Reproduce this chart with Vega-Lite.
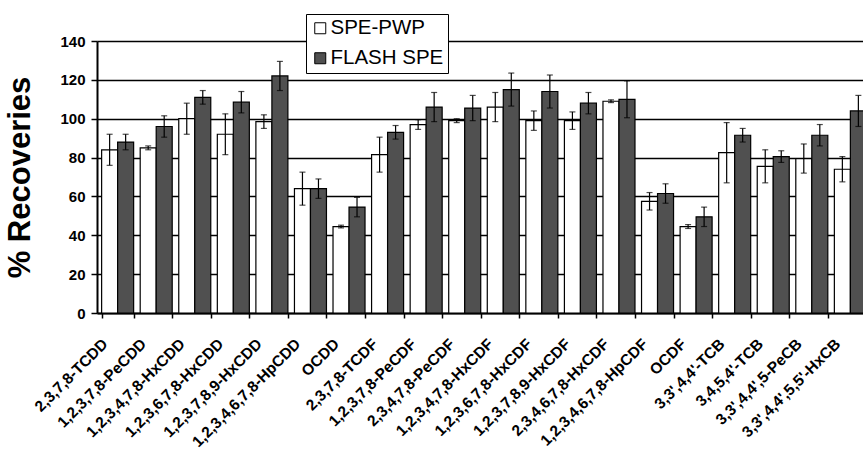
{
  "$schema": "https://vega.github.io/schema/vega-lite/v6.json",
  "width": 766,
  "height": 272,
  "autosize": {"type": "none"},
  "padding": {"left": 97, "top": 41, "right": 0, "bottom": 139},
  "background": "white",
  "config": {"font": "Liberation Sans", "view": {"stroke": null}},
  "data": {
    "values": [
      {"compound": "2,3,7,8-TCDD", "method": "SPE-PWP", "value": 84, "err": 8},
      {"compound": "2,3,7,8-TCDD", "method": "FLASH SPE", "value": 88, "err": 4},
      {"compound": "1,2,3,7,8-PeCDD", "method": "SPE-PWP", "value": 85, "err": 1},
      {"compound": "1,2,3,7,8-PeCDD", "method": "FLASH SPE", "value": 96, "err": 5.5},
      {"compound": "1,2,3,4,7,8-HxCDD", "method": "SPE-PWP", "value": 100, "err": 8},
      {"compound": "1,2,3,4,7,8-HxCDD", "method": "FLASH SPE", "value": 111, "err": 3.5},
      {"compound": "1,2,3,6,7,8-HxCDD", "method": "SPE-PWP", "value": 92, "err": 10.5},
      {"compound": "1,2,3,6,7,8-HxCDD", "method": "FLASH SPE", "value": 108.5, "err": 5.5},
      {"compound": "1,2,3,7,8,9-HxCDD", "method": "SPE-PWP", "value": 98.5, "err": 3.5},
      {"compound": "1,2,3,7,8,9-HxCDD", "method": "FLASH SPE", "value": 122, "err": 7.5},
      {"compound": "1,2,3,4,6,7,8-HpCDD", "method": "SPE-PWP", "value": 64, "err": 8.5},
      {"compound": "1,2,3,4,6,7,8-HpCDD", "method": "FLASH SPE", "value": 64, "err": 5},
      {"compound": "OCDD", "method": "SPE-PWP", "value": 44.5, "err": 0.7},
      {"compound": "OCDD", "method": "FLASH SPE", "value": 54.5, "err": 5},
      {"compound": "2,3,7,8-TCDF", "method": "SPE-PWP", "value": 81.5, "err": 9},
      {"compound": "2,3,7,8-TCDF", "method": "FLASH SPE", "value": 93, "err": 3.5},
      {"compound": "1,2,3,7,8-PeCDF", "method": "SPE-PWP", "value": 97, "err": 2.5},
      {"compound": "1,2,3,7,8-PeCDF", "method": "FLASH SPE", "value": 106, "err": 7.5},
      {"compound": "2,3,4,7,8-PeCDF", "method": "SPE-PWP", "value": 99, "err": 1},
      {"compound": "2,3,4,7,8-PeCDF", "method": "FLASH SPE", "value": 105.5, "err": 6.5},
      {"compound": "1,2,3,4,7,8-HxCDF", "method": "SPE-PWP", "value": 106, "err": 7.5},
      {"compound": "1,2,3,4,7,8-HxCDF", "method": "FLASH SPE", "value": 115, "err": 8.5},
      {"compound": "1,2,3,6,7,8-HxCDF", "method": "SPE-PWP", "value": 99, "err": 5},
      {"compound": "1,2,3,6,7,8-HxCDF", "method": "FLASH SPE", "value": 114, "err": 8.5},
      {"compound": "1,2,3,7,8,9-HxCDF", "method": "SPE-PWP", "value": 99, "err": 4.5},
      {"compound": "1,2,3,7,8,9-HxCDF", "method": "FLASH SPE", "value": 108, "err": 5.5},
      {"compound": "2,3,4,6,7,8-HxCDF", "method": "SPE-PWP", "value": 109, "err": 0.7},
      {"compound": "2,3,4,6,7,8-HxCDF", "method": "FLASH SPE", "value": 110, "err": 9.5},
      {"compound": "1,2,3,4,6,7,8-HpCDF", "method": "SPE-PWP", "value": 57.5, "err": 4.5},
      {"compound": "1,2,3,4,6,7,8-HpCDF", "method": "FLASH SPE", "value": 61.5, "err": 5},
      {"compound": "OCDF", "method": "SPE-PWP", "value": 44.5, "err": 1},
      {"compound": "OCDF", "method": "FLASH SPE", "value": 49.5, "err": 5},
      {"compound": "3,3',4,4'-TCB", "method": "SPE-PWP", "value": 82.5, "err": 15.5},
      {"compound": "3,3',4,4'-TCB", "method": "FLASH SPE", "value": 91.5, "err": 3.5},
      {"compound": "3,4,5,4'-TCB", "method": "SPE-PWP", "value": 75.5, "err": 8.5},
      {"compound": "3,4,5,4'-TCB", "method": "FLASH SPE", "value": 80.5, "err": 3},
      {"compound": "3,3',4,4',5-PeCB", "method": "SPE-PWP", "value": 79.5, "err": 7.5},
      {"compound": "3,3',4,4',5-PeCB", "method": "FLASH SPE", "value": 91.5, "err": 5.5},
      {"compound": "3,3',4,4',5,5'-HxCB", "method": "SPE-PWP", "value": 74, "err": 6.5},
      {"compound": "3,3',4,4',5,5'-HxCB", "method": "FLASH SPE", "value": 104, "err": 8}
    ]
  },
  "encoding": {
    "x": {
      "field": "compound",
      "type": "nominal",
      "sort": null,
      "scale": {"range": [0, 774], "paddingInner": 0.17, "paddingOuter": 0.12},
      "axis": {
        "title": null,
        "labelAngle": -45,
        "labelAlign": "right",
        "labelBaseline": "middle",
        "labelFontWeight": "bold",
        "labelFontSize": 15.5,
        "labelColor": "black",
        "labelPadding": 23,
        "labelOffset": -13,
        "tickBand": "extent",
        "tickSize": 5,
        "tickColor": "black",
        "tickWidth": 1.5,
        "domainColor": "black",
        "domainWidth": 2,
        "grid": false
      }
    },
    "xOffset": {
      "field": "method",
      "type": "nominal",
      "sort": ["SPE-PWP", "FLASH SPE"],
      "scale": {"paddingInner": 0, "paddingOuter": 0}
    },
    "y": {
      "field": "value",
      "type": "quantitative",
      "scale": {"domain": [0, 140], "nice": false},
      "axis": {
        "values": [0, 20, 40, 60, 80, 100, 120, 140],
        "title": "% Recoveries",
        "titleFontSize": 31,
        "titleFontWeight": "bold",
        "titleColor": "black",
        "titlePadding": 23,
        "labelFontSize": 15,
        "labelFontWeight": "bold",
        "labelColor": "black",
        "labelPadding": 6,
        "labelOverlap": false,
        "tickSize": 6,
        "tickColor": "black",
        "tickWidth": 1.5,
        "domainColor": "black",
        "domainWidth": 2,
        "grid": true,
        "gridColor": "black",
        "gridWidth": 1.6,
        "gridOpacity": 1
      }
    }
  },
  "layer": [
    {
      "mark": {"type": "bar", "stroke": "black", "strokeWidth": 1.2},
      "encoding": {
        "fill": {
          "field": "method",
          "type": "nominal",
          "sort": ["SPE-PWP", "FLASH SPE"],
          "scale": {"domain": ["SPE-PWP", "FLASH SPE"], "range": ["white", "#505050"]},
          "legend": {
            "orient": "none",
            "legendX": 209,
            "legendY": -27,
            "title": null,
            "symbolType": "square",
            "symbolSize": 121,
            "symbolStrokeColor": "black",
            "symbolStrokeWidth": 1,
            "labelFontSize": 20.5,
            "labelColor": "black",
            "labelOffset": 0,
            "strokeColor": "black",
            "fillColor": "white",
            "padding": 4,
            "rowPadding": 9,
            "cornerRadius": 0
          }
        }
      }
    },
    {
      "mark": {"type": "errorbar", "ticks": {"size": 6}, "color": "black", "thickness": 1.2},
      "encoding": {
        "yError": {"field": "err"}
      }
    }
  ]
}
